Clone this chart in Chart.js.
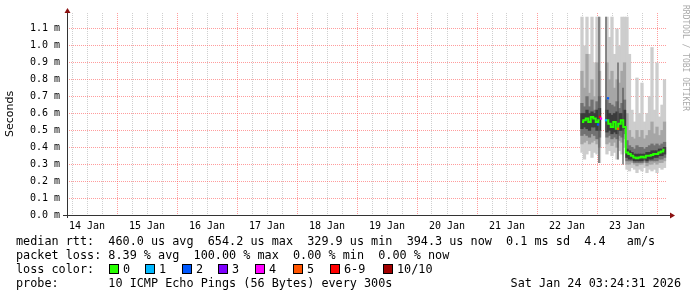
<!DOCTYPE html>
<html><head><meta charset="utf-8">
<script src="https://cdn.jsdelivr.net/npm/chart.js@4/dist/chart.umd.min.js"></script>
<style>html,body{margin:0;padding:0;background:#fff}canvas{display:block}</style>
</head><body><canvas id="c" width="697" height="297"></canvas>
<script>
// ---- data (time = hours since 14 Jan 00:00, values in ms) ----
const dayLabels = ['14 Jan','15 Jan','16 Jan','17 Jan','18 Jan','19 Jan','20 Jan','21 Jan','22 Jan','23 Jan'];
const yTickValues = [0,0.1,0.2,0.3,0.4,0.5,0.6,0.7,0.8,0.9,1.0,1.1];
const hours = [210,211,212,213,214,215,216,217, 220,221,222,223,224,225,226,227,
               228,229,230,231,232,233,234,235,236,237,238,239,240,241,242,243];
const smokeMin = [0.37,0.33,0.36,0.38,0.34,0.37,0.36,0.31, 0.36,0.38,0.35,0.37,0.33,0.38,0.36,0.40,
                  0.27,0.26,0.28,0.27,0.25,0.27,0.26,0.28,0.25,0.27,0.26,0.27,0.25,0.28,0.27,0.28];
const smokeMax = [1.17,1.00,1.17,0.95,1.17,0.90,1.17,1.17, 1.17,1.05,1.17,0.95,1.10,1.00,1.17,1.17,
                  1.17,0.95,0.62,0.55,0.81,0.60,0.78,0.55,0.60,0.70,0.99,0.62,0.90,0.58,0.65,0.80];
const band2Lo = [0.42,0.43,0.44,0.42,0.43,0.44,0.42,0.40, 0.42,0.43,0.41,0.43,0.40,0.44,0.43,0.45,
                 0.30,0.30,0.31,0.30,0.29,0.30,0.30,0.31,0.29,0.30,0.30,0.31,0.30,0.31,0.31,0.32];
const band2Hi = [0.85,0.75,0.95,0.72,0.80,0.70,0.90,0.85, 0.90,0.80,0.85,0.75,0.80,0.78,0.85,0.90,
                 0.60,0.50,0.46,0.45,0.50,0.46,0.50,0.45,0.47,0.50,0.55,0.48,0.52,0.47,0.50,0.55];
const band3Lo = [0.47,0.48,0.47,0.46,0.48,0.47,0.45,0.46, 0.46,0.47,0.45,0.46,0.45,0.47,0.46,0.48,
                 0.32,0.32,0.32,0.31,0.31,0.31,0.31,0.32,0.31,0.32,0.32,0.32,0.32,0.33,0.33,0.34];
const band3Hi = [0.66,0.64,0.70,0.64,0.68,0.62,0.67,0.70, 0.68,0.66,0.65,0.64,0.67,0.63,0.66,0.68,
                 0.44,0.41,0.40,0.39,0.41,0.40,0.40,0.39,0.40,0.41,0.42,0.41,0.42,0.41,0.42,0.43];
const band4Lo = [0.51,0.52,0.51,0.50,0.52,0.52,0.50,0.50, 0.49,0.50,0.48,0.49,0.48,0.50,0.50,0.51,
                 0.34,0.33,0.33,0.32,0.32,0.32,0.32,0.33,0.32,0.33,0.33,0.34,0.34,0.35,0.35,0.36];
const band4Hi = [0.60,0.60,0.62,0.60,0.61,0.60,0.62,0.63, 0.62,0.60,0.59,0.60,0.61,0.60,0.60,0.62,
                 0.39,0.38,0.37,0.36,0.36,0.36,0.36,0.36,0.37,0.37,0.38,0.38,0.38,0.39,0.39,0.40];
const medianRtt = [0.55,0.56,0.57,0.55,0.58,0.57,0.55,0.56, 0.56,0.54,0.52,0.55,0.51,0.54,0.56,0.52,
                   0.37,0.36,0.35,0.34,0.335,0.34,0.345,0.34,0.35,0.35,0.355,0.36,0.36,0.37,0.375,0.385];
const streakHours = [216.8, 219.6, 224.4, 226.4];
const streakLo = [0.31, 0.50, 0.33, 0.30];
const streakHi = [1.17, 1.17, 0.90, 0.75];
const lossHours  = [216.4, 217.2, 217.6, 219.6, 220.4, 224.4];
const lossValues = [0.535, 0.58, 0.57, 0.56, 0.69, 0.51];
const lossLevel  = [2, 6, 4, 1, 2, 5];
const lossColors = ['#26ff00','#00b8ff','#0059ff','#7e00ff','#ff00ff','#ff5500','#ff0000','#a10000'];
const lossLegend = ['0','1','2','3','4','5','6-9','10/10'];
const statLines = [
  'median rtt:  460.0 us avg  654.2 us max  329.9 us min  394.3 us now  0.1 ms sd  4.4   am/s',
  'packet loss: 8.39 % avg  100.00 % max  0.00 % min  0.00 % now',
  'probe:       10 ICMP Echo Pings (56 Bytes) every 300s'
];
const stampText = 'Sat Jan 24 03:24:31 2026';
const sideText = 'RRDTOOL / TOBI OETIKER';

// ---- build datasets ----
const bandPairs = (lo, hi) => hours.map((h, i) => ({x: h, y: [lo[i], hi[i]]}));
const medianPts = [];
hours.forEach((h, i) => {
  if (i > 0 && h - hours[i-1] > 1.5) medianPts.push({x: (h + hours[i-1]) / 2, y: null});
  medianPts.push({x: h, y: medianRtt[i]});
});
const barCommon = {type: 'bar', grouped: false, barThickness: 2.6, borderWidth: 0};

const MONO = '"DejaVu Sans Mono", monospace';
const majorGrid = 'rgba(255,90,90,0.6)';
const minorGrid = 'rgba(175,175,175,0.6)';

const deco = {
  id: 'deco',
  afterDraw(chart) {
    const ctx = chart.ctx;
    const a = chart.chartArea;
    ctx.save();
    // axes
    ctx.strokeStyle = '#333'; ctx.lineWidth = 1;
    ctx.beginPath();
    ctx.moveTo(63, a.bottom + 0.5); ctx.lineTo(a.right + 4, a.bottom + 0.5);
    ctx.moveTo(a.left + 0.5, a.bottom + 3); ctx.lineTo(a.left + 0.5, a.top - 2);
    ctx.stroke();
    ctx.fillStyle = '#8b1010';
    ctx.beginPath();
    ctx.moveTo(a.right + 8, a.bottom + 0.5); ctx.lineTo(a.right + 3, a.bottom - 2.5); ctx.lineTo(a.right + 3, a.bottom + 3.5);
    ctx.closePath(); ctx.fill();
    ctx.beginPath();
    ctx.moveTo(a.left + 0.5, a.top - 5); ctx.lineTo(a.left - 2.5, a.top); ctx.lineTo(a.left + 3.5, a.top);
    ctx.closePath(); ctx.fill();
    // legend text
    ctx.fillStyle = '#000';
    ctx.font = '11.8px ' + MONO;
    ctx.textBaseline = 'alphabetic';
    ctx.textAlign = 'left';
    ctx.fillText(statLines[0], 16, 245);
    ctx.fillText(statLines[1], 16, 259);
    ctx.fillText('loss color:', 16, 273);
    const sqX = [109, 145, 182, 218, 255, 293, 330, 383];
    lossLegend.forEach((t, i) => {
      ctx.fillStyle = lossColors[i];
      ctx.fillRect(sqX[i], 264, 9, 9);
      ctx.strokeStyle = '#000';
      ctx.strokeRect(sqX[i] + 0.5, 264.5, 9, 9);
      ctx.fillStyle = '#000';
      ctx.fillText(t, sqX[i] + 14, 273);
    });
    ctx.fillText(statLines[2], 16, 287);
    ctx.textAlign = 'right';
    ctx.fillText(stampText, 681, 287);
    // side text
    ctx.translate(685, 5);
    ctx.rotate(Math.PI / 2);
    ctx.textAlign = 'left';
    ctx.textBaseline = 'middle';
    ctx.fillStyle = '#aaa';
    ctx.font = '8px ' + MONO;
    ctx.fillText(sideText, 0, 0);
    ctx.restore();
  }
};

new Chart(document.getElementById('c'), {
  data: {
    datasets: [
      {type: 'line', data: lossHours.map((h, i) => ({x: h, y: lossValues[i]})), showLine: false,
       pointStyle: 'rect', pointRadius: 1.6, pointBorderWidth: 0,
       pointBackgroundColor: lossLevel.map(l => lossColors[l]), order: -1},
      {type: 'line', data: medianPts, borderColor: '#26ff00', borderWidth: 2, pointRadius: 0,
       stepped: 'middle', spanGaps: false, order: 0},
      Object.assign({}, barCommon, {data: streakHours.map((h, i) => ({x: h, y: [streakLo[i], streakHi[i]]})),
       backgroundColor: 'rgba(85,85,85,0.75)', barThickness: 1, order: 1}),
      Object.assign({}, barCommon, {data: bandPairs(band4Lo, band4Hi), backgroundColor: '#3c3c3c', order: 2}),
      Object.assign({}, barCommon, {data: bandPairs(band3Lo, band3Hi), backgroundColor: '#727272', order: 3}),
      Object.assign({}, barCommon, {data: bandPairs(band2Lo, band2Hi), backgroundColor: '#a6a6a6', order: 4}),
      Object.assign({}, barCommon, {data: bandPairs(smokeMin, smokeMax), backgroundColor: '#cdcdcd', order: 5})
    ]
  },
  options: {
    responsive: false, animation: false, devicePixelRatio: 1,
    layout: {padding: {top: 12, right: 30, left: 0, bottom: 62}},
    plugins: {legend: {display: false}, tooltip: {enabled: false}},
    scales: {
      x: {
        type: 'linear', min: 4, max: 244, offset: false,
        afterBuildTicks: s => { const t = []; for (let v = 6; v <= 240; v += 6) t.push({value: v}); s.ticks = t; },
        afterFit: s => { s.height = 20; },
        grid: {color: c => (c.tick && c.tick.value % 24 === 0) ? majorGrid : minorGrid, drawTicks: false, lineWidth: 1, offset: false},
        border: {display: false, dash: [1, 1]},
        ticks: {autoSkip: false, maxRotation: 0, padding: 5, color: '#000',
                font: {family: MONO, size: 10},
                callback: v => (v % 24 === 12) ? dayLabels[(v - 12) / 24] : ''}
      },
      y: {
        type: 'linear', min: 0, max: 1.194,
        afterBuildTicks: s => { s.ticks = yTickValues.map(v => ({value: v})); },
        afterFit: s => { s.width = 67; },
        grid: {color: majorGrid, drawTicks: false, lineWidth: 1},
        border: {display: false, dash: [1, 1]},
        ticks: {padding: 7, color: '#000', font: {family: MONO, size: 10},
                callback: v => v.toFixed(1) + ' m'},
        title: {display: true, text: 'Seconds', color: '#000',
                font: {family: '"DejaVu Sans", sans-serif', size: 11}, padding: {top: 4, bottom: 0}}
      }
    }
  },
  plugins: [deco]
});
</script>
</body></html>
